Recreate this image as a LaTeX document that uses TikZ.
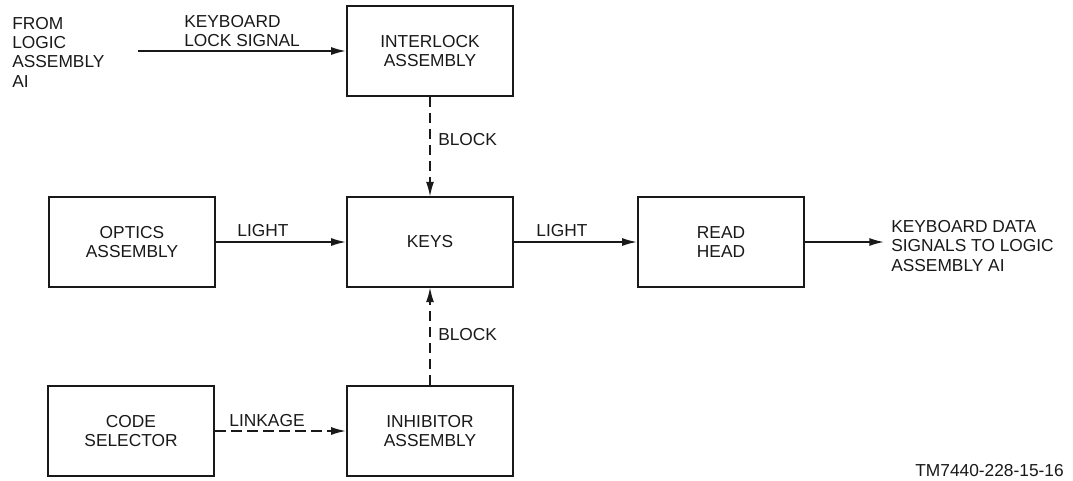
\documentclass[tikz,border=0pt]{standalone}
\usepackage{fontspec}
\setmainfont{Liberation Sans}
\usetikzlibrary{arrows.meta,positioning}
\definecolor{KbInk}{RGB}{25,25,25}
\newcommand{\kbfont}{\fontsize{13}{14.5}\selectfont}
\tikzset{
  kb/box/.style={
    draw=KbInk,
    line width=1.3pt,
    fill=white,
    align=center,
    text=KbInk,
    minimum width=125pt,
    minimum height=67pt,
    font=\kbfont
  },
  kb/arrow/.style={-{Latex[length=11pt,width=6pt]}, line width=1.1pt, draw=KbInk},
  kb/dasharrow/.style={-{Latex[length=11pt,width=6pt]}, line width=1.1pt, dash pattern=on 8pt off 4pt, draw=KbInk},
  kb/label/.style={font=\kbfont, text=KbInk, align=left, inner sep=0pt}
}

\begin{document}
\begin{tikzpicture}[x=0.75pt,y=-0.75pt]
  \useasboundingbox (0,0) rectangle (1073,480);
  \node[kb/box] (interlock) at (430,51) {INTERLOCK\\ASSEMBLY};
  \node[kb/box] (keys) at (430,242) {KEYS};
  \node[kb/box] (inhibitor) at (430,431) {INHIBITOR\\ASSEMBLY};
  \node[kb/box] (optics) at (132,242) {OPTICS\\ASSEMBLY};
  \node[kb/box] (selector) at (131,431) {CODE\\SELECTOR};
  \node[kb/box] (readhead) at (721,242) {READ\\HEAD};
  \node[kb/label,anchor=west] (from) at (12,52) {FROM\\LOGIC\\ASSEMBLY\\AI};
  \coordinate (lockin) at (138,51);
  \coordinate (dataout) at (884,242);
  \draw[kb/arrow] (lockin) -- (interlock);
  \draw[kb/dasharrow] (interlock) -- (keys);
  \draw[kb/dasharrow] (inhibitor) -- (keys);
  \draw[kb/arrow] (optics) -- (keys);
  \draw[kb/arrow] (keys) -- (readhead);
  \draw[kb/dasharrow] (selector) -- (inhibitor);
  \draw[kb/arrow] (readhead) -- (dataout);
  \node[kb/label,anchor=south west] (locklbl) at (184,47) {KEYBOARD\\LOCK SIGNAL};
  \node[kb/label,anchor=west] (blockup) at (438,140) {BLOCK};
  \node[kb/label,anchor=west] (blockdown) at (438,335) {BLOCK};
  \node[kb/label,anchor=south] (lightin) at (263,237) {LIGHT};
  \node[kb/label,anchor=south] (lightout) at (562,237) {LIGHT};
  \node[kb/label,anchor=south] (linkage) at (267,427) {LINKAGE};
  \node[kb/label,anchor=west] (datalbl) at (891,246) {KEYBOARD DATA\\SIGNALS TO LOGIC\\ASSEMBLY AI};
  \node[kb/label,anchor=east] (figno) at (1064,471) {TM7440-228-15-16};
\end{tikzpicture}
\end{document}
